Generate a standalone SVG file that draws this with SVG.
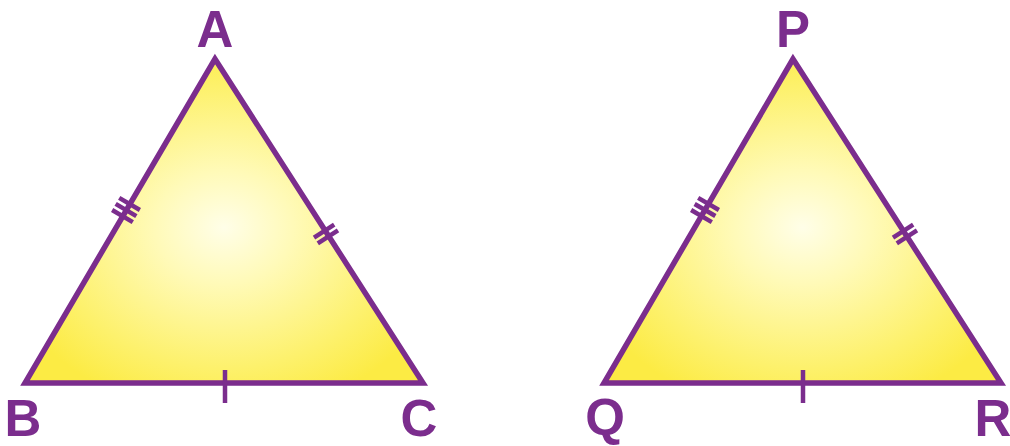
<svg xmlns="http://www.w3.org/2000/svg" width="1010" height="446" viewBox="0 0 1010 446">
<defs>
<radialGradient id="fill" cx="0.5" cy="0.52" r="0.58">
<stop offset="0" stop-color="#FFFEE8"/>
<stop offset="0.3" stop-color="#FFFAB8"/>
<stop offset="0.75" stop-color="#FDF16C"/>
<stop offset="1" stop-color="#FCEB44"/>
</radialGradient>
</defs>
<style>
.tri{fill:url(#fill);stroke:#7B2D8D;stroke-width:5.5;stroke-linejoin:miter}
.tick{stroke:#7B2D8D;stroke-width:4.5;stroke-linecap:butt;fill:none}
.lbl{font-family:"Liberation Sans",Arial,sans-serif;font-weight:bold;font-size:51px;fill:#7B2D8D;text-anchor:middle}
</style>
<rect width="1010" height="446" fill="#FFFFFF"/>
<g id="triangle-ABC">
<polygon class="tri" points="215,59 25,383 423,383"/>
<g transform="translate(126,210) rotate(-59.6)">
<line class="tick" x1="-7" y1="-12" x2="-7" y2="12"/>
<line class="tick" x1="0" y1="-12" x2="0" y2="12"/>
<line class="tick" x1="7" y1="-12" x2="7" y2="12"/>
</g>
<g transform="translate(326,234) rotate(57.3)">
<line class="tick" x1="-3.5" y1="-12" x2="-3.5" y2="12"/>
<line class="tick" x1="3.5" y1="-12" x2="3.5" y2="12"/>
</g>
<line class="tick" x1="225" y1="370" x2="225" y2="403"/>
<text class="lbl" x="215" y="47">A</text>
<text class="lbl" x="23" y="436">B</text>
<text class="lbl" x="419" y="436">C</text>
</g>
<g id="triangle-PQR">
<polygon class="tri" points="793,59 604,383 1001,383"/>
<g transform="translate(705,210) rotate(-59.7)">
<line class="tick" x1="-7" y1="-12" x2="-7" y2="12"/>
<line class="tick" x1="0" y1="-12" x2="0" y2="12"/>
<line class="tick" x1="7" y1="-12" x2="7" y2="12"/>
</g>
<g transform="translate(905,234) rotate(57.3)">
<line class="tick" x1="-3.5" y1="-12" x2="-3.5" y2="12"/>
<line class="tick" x1="3.5" y1="-12" x2="3.5" y2="12"/>
</g>
<line class="tick" x1="803" y1="370" x2="803" y2="403"/>
<text class="lbl" x="793" y="47">P</text>
<text class="lbl" x="605" y="435">Q</text>
<text class="lbl" x="993" y="436">R</text>
</g>
</svg>
